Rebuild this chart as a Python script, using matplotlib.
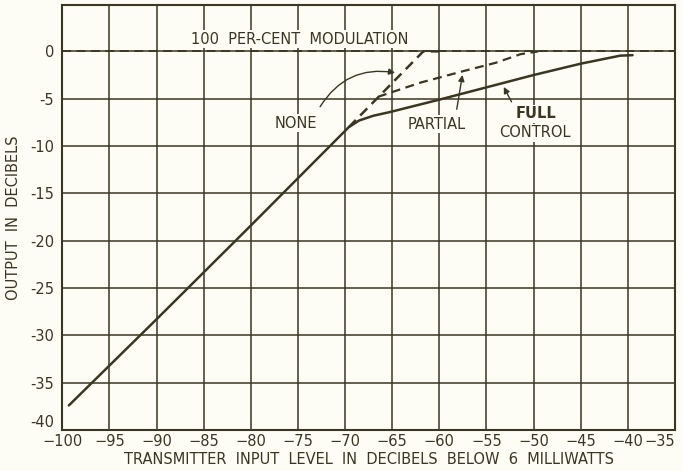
import matplotlib.pyplot as plt

# %% Data
x_ticks = [-100, -95, -90, -85, -80, -75, -70, -65, -60, -55, -50, -45, -40, -35]
x_tick_labels = ['\u2212100', '\u221295', '\u221290', '\u221285', '\u221280', '\u221275', '\u221270',
                 '\u221265', '\u221260', '\u221255', '\u221250', '\u221245', '\u221240', '\u221235']
y_ticks = [0, -5, -10, -15, -20, -25, -30, -35, -40]
y_tick_labels = ['0', '-5', '-10', '-15', '-20', '-25', '-30', '-35', '-40']

# full control (solid)
full_x = [-99.3, -90, -80, -71.5, -69.6, -68.5, -67, -65.2, -60, -55, -50, -45, -40.8, -39.5]
full_y = [-37.4, -28.3, -18.4, -9.9, -8.0, -7.3, -6.8, -6.4, -5.1, -3.8, -2.5, -1.3, -0.45, -0.4]

# no control (dashed, continues the straight line)
none_x = [-69.6, -61.7, -60.0]
none_y = [-8.0, 0.0, 0.0]

# partial control (dashed)
partial_x = [-66.5, -62, -57.5, -54, -51.4, -49.5]
partial_y = [-4.8, -3.3, -2.1, -1.2, -0.3, 0.0]

# 100 per-cent modulation line
mod_x = [-100, -35]
mod_y = [0, 0]

ink = '#3b3622'
paper = '#fdfdf6'

# %% Plot
fig = plt.figure(figsize=(6.82, 4.71), dpi=100, facecolor=paper)
ax = fig.add_axes([0.0913, 0.087, 0.8984, 0.9024], facecolor=paper)

ax.plot(full_x, full_y, color=ink, lw=1.8, solid_capstyle='round')
ax.plot(none_x, none_y, color=ink, lw=1.8, dashes=(4, 2.5))
ax.plot(partial_x, partial_y, color=ink, lw=1.6, dashes=(4, 2.5))
ax.plot(mod_x, mod_y, color=ink, lw=1.3, dashes=(5, 3))

ax.set_xlim(-100, -35)
ax.set_ylim(-40, 4.9)
ax.set_xticks(x_ticks)
ax.set_xticklabels(x_tick_labels)
ax.set_yticks(y_ticks)
ax.set_yticklabels(y_tick_labels)
ax.tick_params(length=0, labelsize=10.5, colors=ink)
ax.tick_params(axis='x', pad=3)
ax.tick_params(axis='y', pad=6)
ax.get_xticklabels()[-1].set_ha('right')
ax.get_yticklabels()[-1].set_va('bottom')
ax.grid(True, color=ink, lw=1.1)
for s in ax.spines.values():
    s.set_color(ink)
    s.set_linewidth(1.5)

ax.set_xlabel('TRANSMITTER  INPUT  LEVEL  IN  DECIBELS  BELOW  6  MILLIWATTS',
              fontsize=10.5, color=ink, labelpad=2)
ax.set_ylabel('OUTPUT  IN  DECIBELS', fontsize=10.5, color=ink, labelpad=6)

# %% Annotations
tkw = dict(fontsize=10.5, color=ink, ha='center', va='center')
ax.text(-74.8, 1.3, '100  PER-CENT  MODULATION', bbox=dict(fc=paper, ec='none', pad=1), **tkw)
ax.text(-75.2, -7.6, 'NONE', bbox=dict(fc=paper, ec='none', pad=1), **tkw)
ax.text(-60.3, -7.7, 'PARTIAL', bbox=dict(fc=paper, ec='none', pad=1), **tkw)
ax.text(-49.7, -6.6, 'FULL', fontweight='bold', bbox=dict(fc=paper, ec='none', pad=1), **tkw)
ax.text(-49.9, -8.6, 'CONTROL', bbox=dict(fc=paper, ec='none', pad=1), **tkw)

akw = dict(arrowstyle='-|>', color=ink, lw=1.0, mutation_scale=9)
ax.annotate('', xy=(-64.4, -2.3), xytext=(-72.8, -6.1),
            arrowprops=dict(connectionstyle='arc3,rad=-0.35', **akw))
ax.annotate('', xy=(-57.5, -2.2), xytext=(-58.2, -6.4), arrowprops=akw)
ax.annotate('', xy=(-53.3, -3.5), xytext=(-52.2, -5.6), arrowprops=akw)

fig.savefig('out.png', dpi=100, facecolor=paper)
